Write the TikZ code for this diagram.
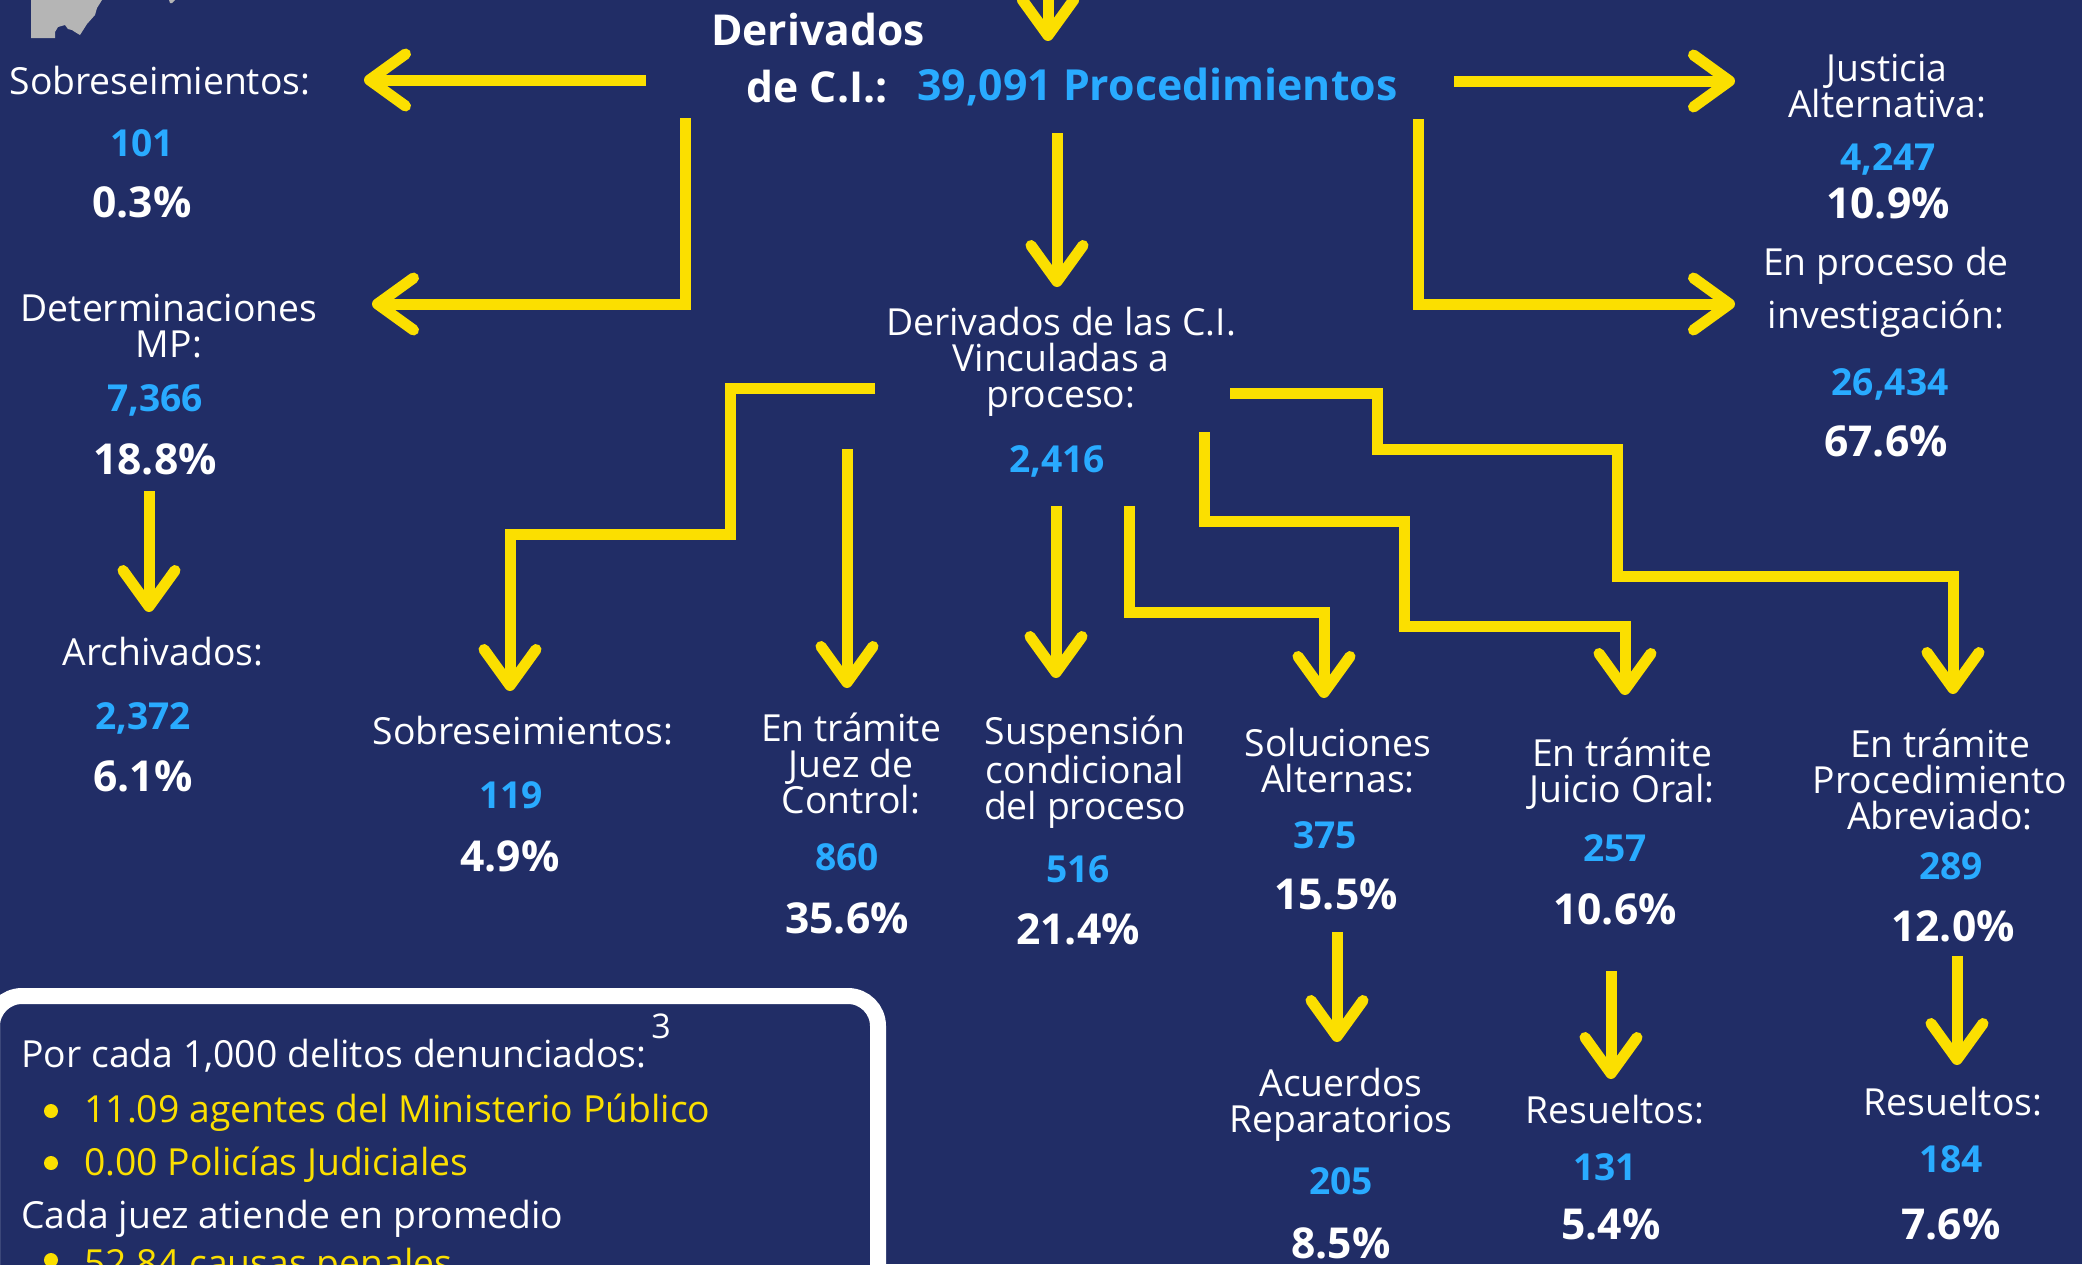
\documentclass[tikz,border=0pt]{standalone}
\usepackage{fontspec}
\setmainfont{Open Sans}
\usetikzlibrary{arrows.meta}
\definecolor{navy}{HTML}{212D66}
\definecolor{arrowyellow}{HTML}{FBDF00}
\definecolor{numblue}{HTML}{29ABFF}
\definecolor{mapgray}{HTML}{B5B5B5}
\tikzset{
  lbl/.style={text=white,align=center,inner sep=0pt,font=\fontsize{18.65}{18}\selectfont},
  num/.style={text=numblue,inner sep=0pt,font=\fontsize{18.6}{18}\selectfont\bfseries},
  pct/.style={text=white,inner sep=0pt,font=\fontsize{21.3}{21}\selectfont\bfseries},
  head/.style={text=white,inner sep=0pt,font=\fontsize{21.3}{21}\selectfont\bfseries},
  headnum/.style={text=numblue,inner sep=0pt,font=\fontsize{21.4}{21}\selectfont\bfseries},
  boxtxt/.style={text=white,anchor=west,inner sep=0pt,font=\fontsize{18.65}{18}\selectfont},
  boxyel/.style={text=arrowyellow,anchor=west,inner sep=0pt,font=\fontsize{18.65}{18}\selectfont},
  bul/.style={circle,fill=arrowyellow,minimum size=7pt,inner sep=0pt},
  conn/.style={draw=arrowyellow,line width=5.5pt,line join=miter},
  arr/.style={conn,-{Straight Barb[round,length=18pt,width=26pt,line width=5.5pt]}},
}
\begin{document}
\begin{tikzpicture}[x=0.5pt,y=-0.5pt]
\useasboundingbox (0,0) rectangle (2082,1264);
\fill[navy] (0,0) rectangle (2082,1264);
\begin{scope}
\clip (0,0) rectangle (2082,1264);
% map fragment
\fill[mapgray] (31,0) -- (31,38) -- (55,38) -- (55,32) -- (58,27) -- (65,25) -- (68,29) -- (72,30) -- (75,32) -- (80,35) -- (87,24) -- (95,15) -- (97,8) -- (102,0) -- cycle;
\fill[mapgray] (169,0) -- (175,0) -- (172,3) -- (170,3) -- cycle;
% info box
\draw[white,line width=8pt,rounded corners=15pt,fill=navy] (-8,996) rectangle (878,1320);
% free ends and bends
\coordinate (topS) at (1048,-30); \coordinate (topE) at (1048,41);
\coordinate (sobS) at (646,80); \coordinate (sobE) at (364,80);
\coordinate (detS) at (685,118); \coordinate (detB) at (685,304); \coordinate (detE) at (372,304);
\coordinate (jusS) at (1454,81); \coordinate (jusE) at (1735,81);
\coordinate (proS) at (1418,119); \coordinate (proB) at (1418,304); \coordinate (proE) at (1735,304);
\coordinate (cenS) at (1057,133); \coordinate (cenE) at (1057,287);
\coordinate (arcS) at (149,491); \coordinate (arcE) at (149,612);
\coordinate (aS) at (875,388); \coordinate (a1) at (730,388); \coordinate (a2) at (730,534); \coordinate (a3) at (510,534); \coordinate (aE) at (510,691);
\coordinate (bS) at (847,449); \coordinate (bE) at (847,688);
\coordinate (cS) at (1056,506); \coordinate (cE) at (1056,678);
\coordinate (dS) at (1129,506); \coordinate (d1) at (1129,612); \coordinate (d2) at (1324,612); \coordinate (dE) at (1324,698);
\coordinate (eS) at (1204,432); \coordinate (e1) at (1204,521); \coordinate (e2) at (1404,521); \coordinate (e3) at (1404,626); \coordinate (e4) at (1625,626); \coordinate (eE) at (1625,695);
\coordinate (fS) at (1230,393); \coordinate (f1) at (1377,393); \coordinate (f2) at (1377,449); \coordinate (f3) at (1617,449); \coordinate (f4) at (1617,576); \coordinate (f5) at (1953,576); \coordinate (fE) at (1953,694);
\coordinate (acuS) at (1337,932); \coordinate (acuE) at (1337,1042);
\coordinate (resAS) at (1611,971); \coordinate (resAE) at (1611,1079);
\coordinate (resBS) at (1957,956); \coordinate (resBE) at (1957,1065);
% heading
\node[head] (derivados) at (818,30) {Derivados};
\node[head,anchor=east] (deci) at (888,87) {de C.I.:};
\node[headnum,anchor=west] (total) at (917,87) {39,091 Procedimientos};
% left column
\node[lbl] (sob1) at (160,81) {Sobreseimientos:};
\node[num] (sob1n) at (142,143) {101};
\node[pct] (sob1p) at (142,202) {0.3\%};
\node[lbl] (det) at (169,326) {Determinaciones\\MP:};
\node[num] (detn) at (155,400) {7,366};
\node[pct] (detp) at (155,459) {18.8\%};
\node[lbl] (arc) at (163,652) {Archivados:};
\node[num] (arcn) at (143,718) {2,372};
\node[pct] (arcp) at (143,776) {6.1\%};
% right column
\node[lbl] (jus) at (1887,86) {Justicia\\Alternativa:};
\node[num] (jusn) at (1888,159) {4,247};
\node[pct] (jusp) at (1888,203) {10.9\%};
\node[lbl,font=\fontsize{18.65}{26.5}\selectfont] (pro) at (1886,292) {En proceso de\\investigación:};
\node[num] (pron) at (1890,384) {26,434};
\node[pct] (prop) at (1886,441) {67.6\%};
% centre
\node[lbl] (vin) at (1061,362) {Derivados de las C.I.\\Vinculadas a\\proceso:};
\node[num] (vinn) at (1057,461) {2,416};
% lower row
\node[lbl] (sob2) at (523,731) {Sobreseimientos:};
\node[num] (sob2n) at (511,795) {119};
\node[pct] (sob2p) at (510,856) {4.9\%};
\node[lbl] (jue) at (851,763) {En trámite\\Juez de\\Control:};
\node[num] (juen) at (847,857) {860};
\node[pct] (juep) at (847,918) {35.6\%};
\node[lbl] (sus) at (1085,772) {Suspensión\\condicional\\del proceso};
\node[num] (susn) at (1078,869) {516};
\node[pct] (susp) at (1078,929) {21.4\%};
\node[lbl] (sol) at (1338,761) {Soluciones\\Alternas:};
\node[num] (soln) at (1325,835) {375};
\node[pct] (solp) at (1336,894) {15.5\%};
\node[lbl] (acu) at (1341,1105) {Acuerdos\\Reparatorios};
\node[num] (acun) at (1341,1181) {205};
\node[pct] (acup) at (1341,1243) {8.5\%};
\node[lbl] (jui) at (1622,774) {En trámite\\Juicio Oral:};
\node[num] (juin) at (1615,848) {257};
\node[pct] (juip) at (1615,909) {10.6\%};
\node[lbl] (resa) at (1615,1110) {Resueltos:};
\node[num] (resan) at (1605,1167) {131};
\node[pct] (resap) at (1611,1224) {5.4\%};
\node[lbl] (abr) at (1940,779) {En trámite\\Procedimiento\\Abreviado:};
\node[num] (abrn) at (1951,866) {289};
\node[pct] (abrp) at (1953,926) {12.0\%};
\node[lbl] (resb) at (1953,1102) {Resueltos:};
\node[num] (resbn) at (1951,1159) {184};
\node[pct] (resbp) at (1951,1224) {7.6\%};
% info text
\node[boxtxt] (por) at (21,1056) {Por cada 1,000 delitos denunciados:};
\node[text=white,inner sep=0pt,font=\fontsize{17}{17}\selectfont] (fn) at (661,1026) {3};
\node[bul] (b1) at (51,1111) {};
\node[boxyel] (age) at (84,1113) {11.09 agentes del Ministerio Público};
\node[bul] (b2) at (51,1163) {};
\node[boxyel] (pol) at (84,1165) {0.00 Policías Judiciales};
\node[boxtxt] (cad) at (21,1219) {Cada juez atiende en promedio};
\node[bul] (b3) at (51,1260) {};
\node[boxyel] (cau) at (84,1267) {52.84 causas penales};
% connectors
\draw[arr] (topS) -- (topE);
\draw[arr] (sobS) -- (sobE);
\draw[arr] (detS) -- (detB) -- (detE);
\draw[arr] (jusS) -- (jusE);
\draw[arr] (proS) -- (proB) -- (proE);
\draw[arr] (cenS) -- (cenE);
\draw[arr] (arcS) -- (arcE);
\draw[arr] (aS) -- (a1) -- (a2) -- (a3) -- (aE);
\draw[arr] (bS) -- (bE);
\draw[arr] (cS) -- (cE);
\draw[arr] (dS) -- (d1) -- (d2) -- (dE);
\draw[arr] (eS) -- (e1) -- (e2) -- (e3) -- (e4) -- (eE);
\draw[arr] (fS) -- (f1) -- (f2) -- (f3) -- (f4) -- (f5) -- (fE);
\draw[arr] (acuS) -- (acuE);
\draw[arr] (resAS) -- (resAE);
\draw[arr] (resBS) -- (resBE);
\end{scope}
\end{tikzpicture}
\end{document}
